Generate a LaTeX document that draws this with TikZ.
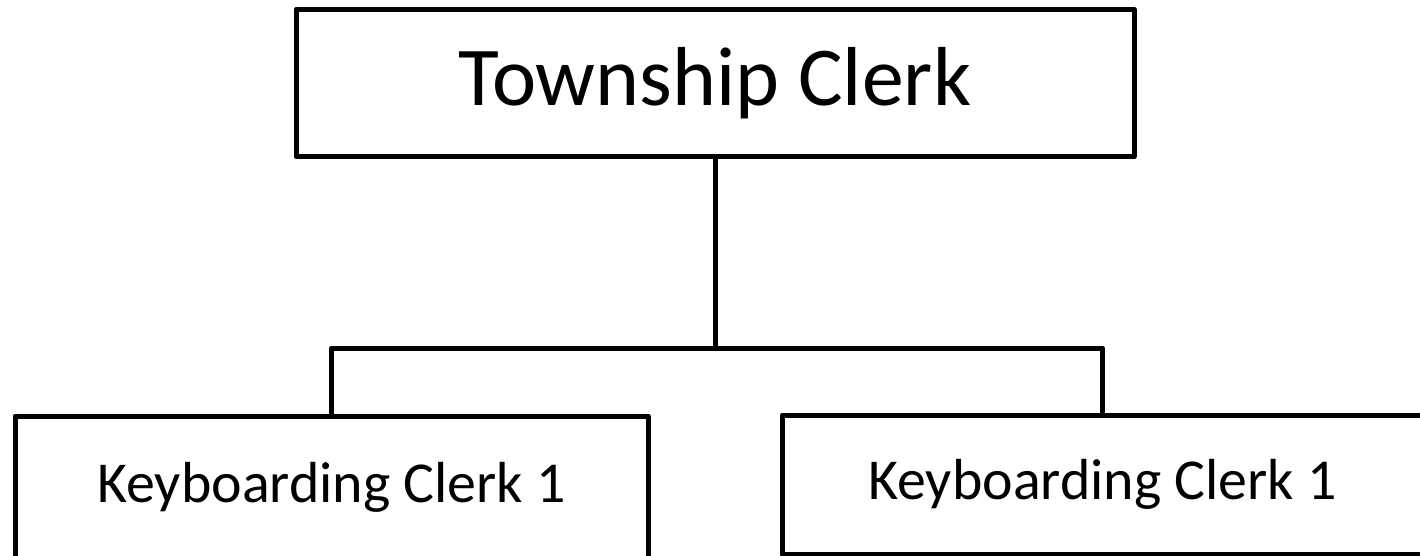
\documentclass[tikz,border=0pt]{standalone}
\usepackage{fontspec}
\setmainfont{Carlito}
\begin{document}
\begin{tikzpicture}[x=1pt,y=-1pt,
  orgbox/.style={draw=black,line width=5pt,line join=round,fill=white,inner sep=0pt,outer sep=0pt},
  wire/.style={draw=black,line width=5pt,line join=round}]
\useasboundingbox[fill=white] (0,0) rectangle (1420,555);
\clip (0,0) rectangle (1420,555);
% head of the chart
\node[orgbox,minimum width=838pt,minimum height=147.5pt,
      font=\fontsize{83.7}{100}\selectfont] (clerk) at (715,83) {Township Clerk};
% two subordinate posts
\node[orgbox,minimum width=633pt,minimum height=142pt,
      font=\fontsize{57.9}{70}\selectfont] (kb1) at (331.5,487) {Keyboarding Clerk 1};
\node[orgbox,minimum width=640pt,minimum height=139pt,
      font=\fontsize{57.9}{70}\selectfont] (kb2) at (1102.5,484.5) {Keyboarding Clerk 1};
% reporting lines
\coordinate (bus) at (715,348);
\draw[wire] (clerk.south) -- (bus);
\draw[wire] (kb1.north) |- (bus) -| (kb2.north);
\end{tikzpicture}
\end{document}
